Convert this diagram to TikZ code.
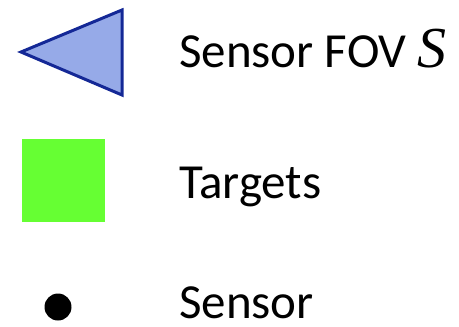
\documentclass[tikz,border=0pt]{standalone}
\usepackage{fontspec}
\setmainfont{Carlito}
\newfontfamily\mathsym{Liberation Serif}

\definecolor{fovfill}{RGB}{150,170,232}
\definecolor{fovline}{RGB}{20,40,150}
\definecolor{targetgreen}{RGB}{102,255,51}

\begin{document}
\begin{tikzpicture}[x=1pt,y=-1pt,
	fov/.style={draw=fovline,fill=fovfill,line width=3pt,line join=miter},
	target/.style={fill=targetgreen,minimum size=83pt,inner sep=0pt},
	sensordot/.style={fill=black,circle,minimum size=27pt,inner sep=0pt},
	legendtext/.style={anchor=base west,inner sep=0pt,text depth=0pt,font=\fontsize{49}{58}\selectfont}]
			\useasboundingbox (0,0) rectangle (459,327);
			
			\coordinate (tip) at (21,52);
			\coordinate (top) at (122,10);
			\coordinate (bot) at (122,95);
			\draw[fov] (tip) -- (top) -- (bot) -- cycle;
			
			\node[target] (t) at (63,180) {};
			\node[sensordot] (s) at (58,307) {};
			
			\node[legendtext] (fovlabel) at (179,67) {Sensor FOV {\mathsym\itshape\fontsize{58}{58}\selectfont S}};
			\node[legendtext] (targetlabel) at (179,198) {Targets};
			\node[legendtext] (sensorlabel) at (179,318) {Sensor};
		\end{tikzpicture}
\end{document}
